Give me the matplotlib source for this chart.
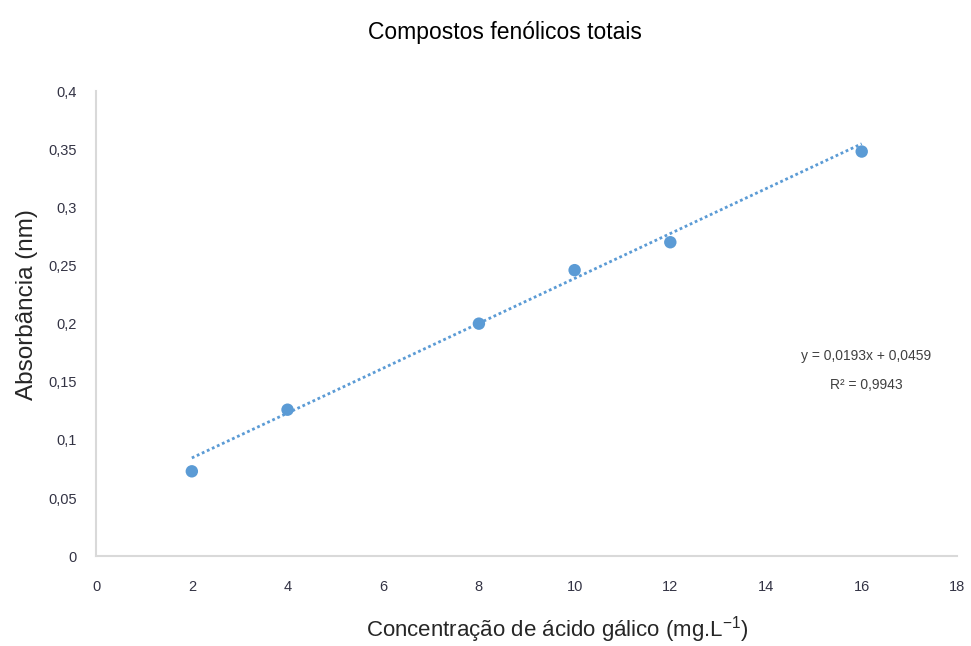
import numpy as np
import matplotlib.pyplot as plt

# data
concentracao = [2, 4, 8, 10, 12, 16]
absorbancia = [0.073, 0.126, 0.200, 0.246, 0.270, 0.348]
slope, intercept = 0.0193, 0.0459
r2 = 0.9943

xticks = [0, 2, 4, 6, 8, 10, 12, 14, 16, 18]
yticks = [0, 0.05, 0.1, 0.15, 0.2, 0.25, 0.3, 0.35, 0.4]

blue = '#5b9bd5'
narrow = ['Liberation Sans', 'DejaVu Sans']

fig = plt.figure(figsize=(9.71, 6.46), dpi=100)
ax = fig.add_axes([0.099, 0.139, 0.887, 0.720])

# linear trendline across the data range
xt = np.array([min(concentracao), max(concentracao)])
ax.plot(xt, slope * xt + intercept, color=blue, lw=2, ls=(0, (1, 1)), zorder=2)
ax.scatter(concentracao, absorbancia, s=80, color=blue, zorder=3, edgecolors='none')

ax.set_xlim(0, 18)
ax.set_ylim(0, 0.4)
ax.set_xticks(xticks)
ax.set_yticks(yticks)
ax.set_xticklabels([str(t) for t in xticks], family=narrow, fontsize=10.5, color='#333344')
ax.set_yticklabels(['0' if t == 0 else f'{t:g}'.replace('.', ',') for t in yticks],
                   family=narrow, fontsize=10.5, color='#333344')
ax.tick_params(length=0, pad=14)
ax.tick_params(axis='x', pad=17)

for s in ['top', 'right']:
    ax.spines[s].set_visible(False)
for s in ['left', 'bottom']:
    ax.spines[s].set_color('#d9d9d9')
    ax.spines[s].set_linewidth(1.5)

ax.text(16.1, 0.172, 'y = 0,0193x + 0,0459', family=narrow, fontsize=10,
        color='#404040', ha='center', va='center')
ax.text(16.1, 0.147, f'R² = {r2:.4f}'.replace('.', ','), family=narrow, fontsize=10,
        color='#404040', ha='center', va='center')

fig.text(0.52, 0.950, 'Compostos fenólicos totais', family=narrow, fontsize=16.5,
         ha='center', va='center', color='black')
ax.set_xlabel('Concentração de ácido gálico (mg.L$^{\\mathregular{-1}}$)', family='Liberation Sans',
              fontsize=16, color='#262626')
ax.xaxis.set_label_coords(0.536, -0.125)
ax.set_ylabel('Absorbância (nm)', family='Liberation Sans', fontsize=17.5,
              color='#262626')
ax.yaxis.set_label_coords(-0.068, 0.54)

fig.savefig('out.png', dpi=100)
